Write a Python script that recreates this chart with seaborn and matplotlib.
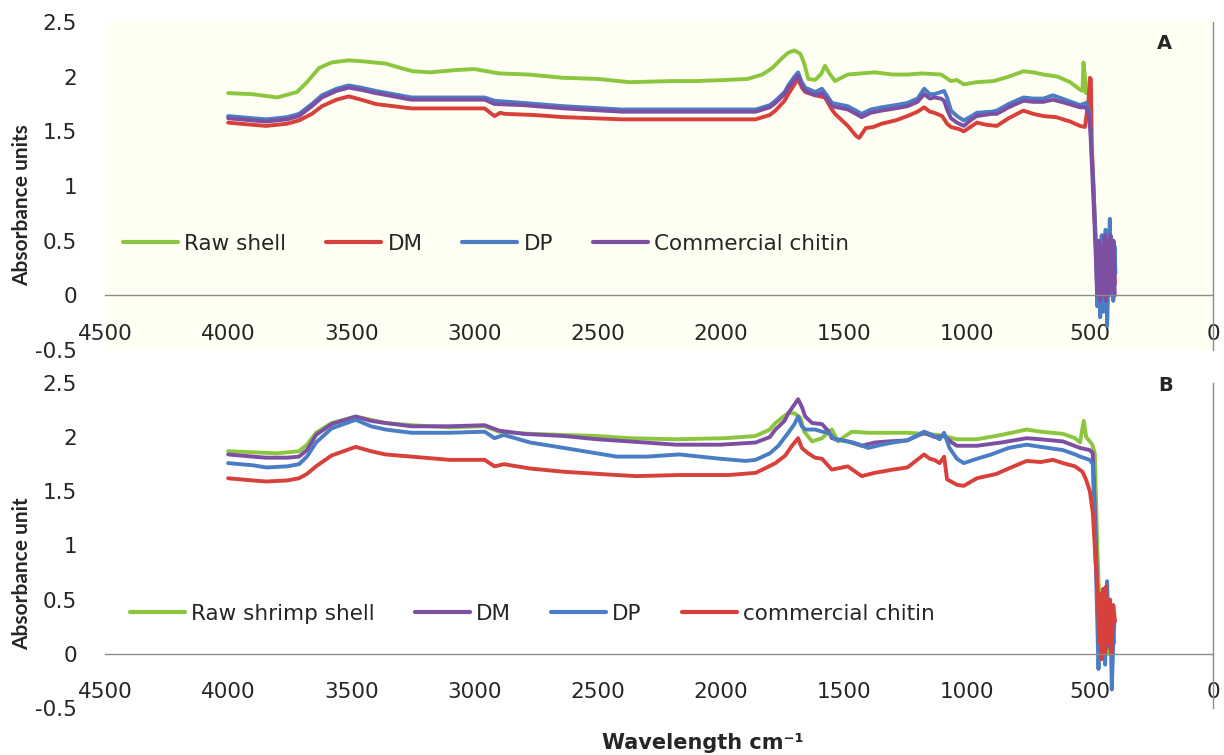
import pandas as pd
import matplotlib
matplotlib.use("Agg")
import matplotlib.pyplot as plt
from matplotlib.lines import Line2D
from matplotlib.ticker import MultipleLocator, FuncFormatter
import seaborn as sns

# ---------------------------------------------------------
# Spectra: (wavenumber, absorbance)
# ---------------------------------------------------------
# Panel A
a_raw_shell = [
    (4000, 1.85), (3900, 1.84), (3800, 1.81), (3720, 1.86), (3680, 1.95), (3630, 2.08),
    (3580, 2.13), (3510, 2.15), (3450, 2.14), (3360, 2.12), (3300, 2.08), (3250, 2.05),
    (3180, 2.04), (3080, 2.06), (3000, 2.07), (2900, 2.03), (2780, 2.02), (2640, 1.99),
    (2500, 1.98), (2370, 1.95), (2200, 1.96), (2100, 1.96), (1980, 1.97), (1890, 1.98),
    (1830, 2.02), (1790, 2.08), (1750, 2.17), (1725, 2.22), (1700, 2.24), (1676, 2.21),
    (1660, 2.12), (1644, 1.98), (1616, 1.97), (1590, 2.03), (1576, 2.10), (1555, 2.02),
    (1535, 1.96), (1510, 1.99), (1483, 2.02), (1430, 2.03), (1374, 2.04), (1300, 2.02),
    (1241, 2.02), (1180, 2.03), (1104, 2.02), (1064, 1.96), (1040, 1.97), (1012, 1.93),
    (960, 1.95), (891, 1.96), (830, 2.00), (770, 2.05), (730, 2.04), (689, 2.02),
    (630, 2.00), (580, 1.95), (545, 1.89), (530, 1.87), (526, 2.13), (520, 2.00), (516, 1.85),
]
a_dm = [
    (4000, 1.58), (3900, 1.56), (3845, 1.55), (3760, 1.57), (3712, 1.60), (3660, 1.66),
    (3619, 1.73), (3560, 1.79), (3510, 1.82), (3460, 1.79), (3400, 1.75), (3256, 1.71),
    (3100, 1.71), (2958, 1.71), (2930, 1.66), (2918, 1.64), (2895, 1.67), (2877, 1.66),
    (2760, 1.65), (2636, 1.63), (2400, 1.61), (2180, 1.61), (1980, 1.61), (1858, 1.61),
    (1800, 1.65), (1777, 1.69), (1740, 1.78), (1725, 1.84), (1700, 1.93), (1685, 1.98),
    (1670, 1.90), (1656, 1.86), (1616, 1.83), (1576, 1.81), (1548, 1.70), (1535, 1.66),
    (1483, 1.55), (1450, 1.46), (1437, 1.44), (1410, 1.53), (1380, 1.54), (1346, 1.57),
    (1290, 1.60), (1241, 1.64), (1200, 1.68), (1173, 1.72), (1150, 1.68), (1132, 1.67),
    (1100, 1.64), (1080, 1.57), (1064, 1.54), (1030, 1.52), (1012, 1.50), (959, 1.58),
    (920, 1.56), (878, 1.55), (830, 1.62), (770, 1.69), (730, 1.66), (689, 1.64),
    (637, 1.63), (580, 1.59), (540, 1.55), (520, 1.54), (505, 1.80), (500, 1.99),
    (496, 1.98), (492, 1.35), (485, 1.00), (478, 0.55), (470, 0.20), (462, 0.45),
    (455, 0.00), (448, 0.35), (440, -0.05), (432, 0.40), (425, 0.10), (418, 0.50),
    (410, 0.00), (402, 0.35), (398, 0.10),
]
a_dp = [
    (4000, 1.64), (3900, 1.62), (3845, 1.61), (3760, 1.63), (3712, 1.66), (3660, 1.75),
    (3619, 1.83), (3560, 1.89), (3510, 1.92), (3460, 1.90), (3400, 1.87), (3256, 1.81),
    (3100, 1.81), (2958, 1.81), (2918, 1.78), (2800, 1.76), (2636, 1.73), (2400, 1.70),
    (2180, 1.70), (1980, 1.70), (1858, 1.70), (1800, 1.74), (1777, 1.78), (1740, 1.86),
    (1725, 1.92), (1700, 2.00), (1685, 2.04), (1670, 1.95), (1656, 1.90), (1616, 1.86),
    (1588, 1.89), (1565, 1.82), (1548, 1.76), (1483, 1.73), (1450, 1.69), (1427, 1.66),
    (1390, 1.70), (1346, 1.72), (1290, 1.74), (1241, 1.76), (1200, 1.80), (1173, 1.89),
    (1150, 1.84), (1132, 1.84), (1105, 1.86), (1092, 1.87), (1080, 1.81), (1064, 1.69),
    (1040, 1.64), (1012, 1.60), (980, 1.64), (959, 1.67), (900, 1.68), (878, 1.69),
    (830, 1.75), (770, 1.81), (730, 1.80), (689, 1.80), (650, 1.83), (600, 1.79),
    (540, 1.74), (516, 1.76), (505, 1.70), (498, 1.55), (490, 1.20), (482, 0.80),
    (476, 0.50), (470, -0.10), (465, 0.40), (458, -0.20), (452, 0.55), (445, -0.15),
    (440, 0.30), (436, 0.60), (430, -0.28), (424, 0.20), (419, 0.70), (414, 0.05),
    (410, 0.50), (405, -0.05), (400, 0.45), (396, 0.20),
]
a_commercial = [
    (4000, 1.62), (3900, 1.60), (3845, 1.59), (3760, 1.61), (3712, 1.64), (3660, 1.73),
    (3619, 1.81), (3560, 1.87), (3510, 1.90), (3460, 1.88), (3400, 1.85), (3256, 1.79),
    (3100, 1.79), (2958, 1.79), (2918, 1.75), (2800, 1.74), (2636, 1.71), (2400, 1.68),
    (2180, 1.68), (1980, 1.68), (1858, 1.68), (1800, 1.72), (1777, 1.76), (1740, 1.84),
    (1725, 1.90), (1700, 1.97), (1685, 2.01), (1670, 1.92), (1656, 1.87), (1616, 1.83),
    (1588, 1.85), (1565, 1.79), (1548, 1.73), (1483, 1.70), (1450, 1.66), (1427, 1.63),
    (1390, 1.67), (1346, 1.69), (1290, 1.71), (1241, 1.73), (1200, 1.77), (1173, 1.84),
    (1150, 1.80), (1132, 1.81), (1105, 1.80), (1092, 1.78), (1080, 1.70), (1064, 1.62),
    (1040, 1.58), (1012, 1.55), (980, 1.61), (959, 1.64), (900, 1.66), (878, 1.66),
    (830, 1.72), (770, 1.78), (730, 1.77), (689, 1.77), (650, 1.79), (600, 1.76),
    (540, 1.72), (516, 1.72), (505, 1.66), (498, 1.50), (490, 1.10), (482, 0.70),
    (476, 0.35), (470, 0.00), (464, 0.50), (458, -0.05), (452, 0.45), (446, 0.00),
    (440, 0.55), (434, -0.05), (428, 0.50), (422, 0.00), (416, 0.55), (410, 0.05),
    (404, 0.50), (399, 0.00),
]

# Panel B
b_raw_shell = [
    (4000, 1.87), (3900, 1.86), (3800, 1.85), (3712, 1.87), (3680, 1.93), (3643, 2.04),
    (3580, 2.13), (3482, 2.19), (3420, 2.16), (3360, 2.13), (3256, 2.11), (3100, 2.09),
    (2958, 2.10), (2900, 2.05), (2773, 2.03), (2636, 2.02), (2500, 2.01), (2370, 1.99),
    (2180, 1.98), (1980, 1.99), (1858, 2.01), (1800, 2.07), (1777, 2.13), (1750, 2.18),
    (1725, 2.22), (1700, 2.22), (1676, 2.18), (1660, 2.05), (1628, 1.96), (1588, 1.99),
    (1560, 2.05), (1548, 2.07), (1523, 1.96), (1500, 2.00), (1467, 2.05), (1400, 2.04),
    (1300, 2.04), (1241, 2.04), (1173, 2.03), (1120, 2.02), (1092, 2.01), (1040, 1.98),
    (959, 1.98), (860, 2.02), (757, 2.07), (700, 2.05), (609, 2.03), (560, 1.99),
    (540, 1.95), (525, 2.15), (515, 2.00), (500, 1.96), (490, 1.93), (480, 1.85),
    (470, 1.00), (462, 0.50), (455, 0.00), (448, 0.30), (440, 0.10), (432, 0.55),
    (425, 0.00), (418, 0.45), (410, 0.05), (402, 0.30),
]
b_dm = [
    (4000, 1.84), (3900, 1.82), (3845, 1.81), (3760, 1.81), (3712, 1.82), (3680, 1.88),
    (3643, 2.02), (3580, 2.12), (3482, 2.19), (3420, 2.15), (3361, 2.13), (3256, 2.10),
    (3100, 2.10), (2958, 2.11), (2900, 2.06), (2800, 2.03), (2636, 2.01), (2500, 1.98),
    (2370, 1.96), (2180, 1.93), (2000, 1.93), (1858, 1.95), (1800, 2.00), (1777, 2.07),
    (1740, 2.15), (1725, 2.22), (1700, 2.30), (1685, 2.35), (1670, 2.28), (1656, 2.19),
    (1628, 2.13), (1588, 2.12), (1560, 2.05), (1548, 1.99), (1483, 1.96), (1427, 1.92),
    (1374, 1.95), (1320, 1.96), (1241, 1.97), (1173, 2.04), (1130, 2.00), (1092, 2.01),
    (1060, 1.95), (1040, 1.92), (959, 1.92), (860, 1.95), (757, 1.99), (700, 1.98),
    (609, 1.96), (540, 1.90), (500, 1.88), (488, 1.85), (478, 1.20), (470, 0.60),
    (462, 0.20), (455, 0.50), (448, 0.00), (440, 0.45), (432, 0.05), (425, 0.50),
    (418, 0.10), (410, 0.40), (402, 0.10),
]
b_dp = [
    (4000, 1.76), (3900, 1.74), (3845, 1.72), (3760, 1.73), (3712, 1.75), (3680, 1.82),
    (3643, 1.95), (3580, 2.08), (3482, 2.16), (3420, 2.10), (3361, 2.07), (3256, 2.04),
    (3100, 2.04), (2958, 2.05), (2918, 1.99), (2880, 2.02), (2773, 1.95), (2636, 1.90),
    (2422, 1.82), (2300, 1.82), (2168, 1.84), (2000, 1.80), (1898, 1.78), (1858, 1.79),
    (1800, 1.85), (1765, 1.92), (1725, 2.04), (1700, 2.12), (1685, 2.19), (1670, 2.10),
    (1656, 2.07), (1616, 2.07), (1588, 2.05), (1560, 2.04), (1535, 1.98), (1460, 1.95),
    (1400, 1.90), (1346, 1.93), (1300, 1.95), (1241, 1.97), (1173, 2.05), (1140, 2.02),
    (1110, 1.98), (1092, 2.04), (1070, 1.90), (1040, 1.80), (1012, 1.76), (959, 1.80),
    (900, 1.84), (830, 1.90), (757, 1.93), (700, 1.91), (609, 1.88), (560, 1.84),
    (540, 1.82), (500, 1.79), (488, 1.75), (478, 1.00), (470, 0.30), (465, -0.14),
    (458, 0.40), (452, 0.00), (445, 0.55), (438, -0.10), (430, 0.67), (425, 0.20),
    (418, 0.50), (411, -0.33), (405, 0.10), (400, 0.30),
]
b_commercial = [
    (4000, 1.62), (3900, 1.60), (3845, 1.59), (3760, 1.60), (3712, 1.62), (3680, 1.66),
    (3643, 1.73), (3580, 1.83), (3482, 1.91), (3420, 1.87), (3361, 1.84), (3256, 1.82),
    (3100, 1.79), (2986, 1.79), (2958, 1.79), (2918, 1.73), (2880, 1.75), (2773, 1.71),
    (2636, 1.68), (2422, 1.65), (2341, 1.64), (2168, 1.65), (1967, 1.65), (1858, 1.67),
    (1830, 1.70), (1777, 1.76), (1737, 1.83), (1710, 1.92), (1685, 1.99), (1670, 1.90),
    (1644, 1.85), (1616, 1.81), (1588, 1.80), (1548, 1.70), (1483, 1.73), (1427, 1.64),
    (1374, 1.67), (1300, 1.70), (1241, 1.72), (1173, 1.84), (1150, 1.80), (1132, 1.79),
    (1110, 1.76), (1092, 1.82), (1080, 1.61), (1040, 1.56), (1012, 1.55), (959, 1.62),
    (880, 1.66), (830, 1.71), (757, 1.78), (700, 1.77), (650, 1.79), (609, 1.76),
    (560, 1.73), (530, 1.68), (516, 1.61), (500, 1.50), (488, 1.30), (478, 0.90),
    (468, 0.56), (462, 0.10), (458, 0.55), (452, -0.05), (446, 0.60), (440, 0.00),
    (434, 0.62), (428, 0.10), (420, 0.50), (412, 0.00), (405, 0.45), (398, 0.30),
]

labels_a = ["Raw shell", "DM", "DP", "Commercial chitin"]
labels_b = ["Raw shrimp shell", "DM", "DP", "commercial chitin"]

GREEN = "#8cc63f"
RED = "#d8403b"
BLUE = "#4a7dc4"
PURPLE = "#7d4fa2"
colors_a = [GREEN, RED, BLUE, PURPLE]
colors_b = [GREEN, PURPLE, BLUE, RED]

AXIS_GREY = "#8c8c8c"
TEXT_DARK = "#262626"
FS = 15.5


def long_frame(names, series):
    parts = []
    for name, pts in zip(names, series):
        df = pd.DataFrame(pts, columns=["wn", "absorbance"])
        df["sample"] = name
        parts.append(df)
    return pd.concat(parts, ignore_index=True)


def style_axis(ax, face):
    ax.set_facecolor(face)
    ax.set_xlim(4500, 0)
    ax.set_ylim(-0.5, 2.5)
    ax.xaxis.set_major_locator(MultipleLocator(500))
    ax.xaxis.set_minor_locator(MultipleLocator(100))
    ax.yaxis.set_major_locator(MultipleLocator(0.5))
    fmt = FuncFormatter(lambda v, p: f"{v:g}")
    ax.xaxis.set_major_formatter(fmt)
    ax.yaxis.set_major_formatter(fmt)
    ax.spines["bottom"].set_position(("data", 0))
    ax.spines["top"].set_visible(False)
    ax.spines["left"].set_visible(False)
    ax.spines["right"].set_visible(True)
    for s in ("bottom", "right"):
        ax.spines[s].set_color(AXIS_GREY)
        ax.spines[s].set_linewidth(1.0)
    ax.tick_params(axis="x", which="major", direction="inout", length=9, width=1,
                   color=AXIS_GREY, pad=16, labelsize=FS, labelcolor=TEXT_DARK)
    ax.tick_params(axis="x", which="minor", direction="inout", length=5, width=1,
                   color=AXIS_GREY)
    ax.tick_params(axis="y", which="both", length=0, pad=20, labelsize=FS,
                   labelcolor=TEXT_DARK, left=True, right=False)
    ax.set_xlabel("")
    ax.set_ylabel("")
    ax.grid(False)


sns.set_theme(style="white")
plt.rcParams["font.family"] = ["DejaVu Sans"]

fig = plt.figure(figsize=(12.24, 7.55), dpi=100)
ax_a = fig.add_axes([0.0858, 0.5364, 0.9052, 0.4344])
ax_b = fig.add_axes([0.0858, 0.0623, 0.9052, 0.4305])

panels = [
    (ax_a, labels_a, [a_raw_shell, a_dm, a_dp, a_commercial], colors_a, "#fffff3",
     (0.1005, 0.677), "A", (0.951, 0.943), "Absorbance units", 0.7285),
    (ax_b, labels_b, [b_raw_shell, b_dm, b_dp, b_commercial], colors_b, "white",
     (0.1062, 0.1868), "B", (0.952, 0.489), "Absorbance unit", 0.2397),
]

for ax, names, series, cols, face, leg_xy, tag, tag_xy, ylab, ylab_y in panels:
    df = long_frame(names, series)
    sns.lineplot(data=df, x="wn", y="absorbance", hue="sample", hue_order=names,
                 palette=dict(zip(names, cols)), estimator=None, sort=False,
                 linewidth=2.8, legend=False, ax=ax)
    style_axis(ax, face)
    handles = [Line2D([0], [0], color=c, lw=3) for c in cols]
    ax.legend(handles, names, loc="center left", bbox_to_anchor=leg_xy,
              bbox_transform=fig.transFigure, ncol=4, frameon=False, fontsize=FS,
              labelcolor=TEXT_DARK, handlelength=2.55, handletextpad=0.3,
              columnspacing=1.85, borderpad=0, borderaxespad=0)
    fig.text(tag_xy[0], tag_xy[1], tag, ha="center", va="center", fontsize=14,
             fontweight="bold", color=TEXT_DARK)
    fig.text(0.018, ylab_y, ylab, rotation=90, ha="center", va="center",
             fontsize=15, fontweight="bold", color=TEXT_DARK, family=["Lato", "DejaVu Sans"])

fig.text(0.5743, 0.016, "Wavelength cm\u207b\u00b9", ha="center", va="center",
         fontsize=15, fontweight="bold", color=TEXT_DARK)

fig.savefig("out.png", dpi=100, facecolor="white")
